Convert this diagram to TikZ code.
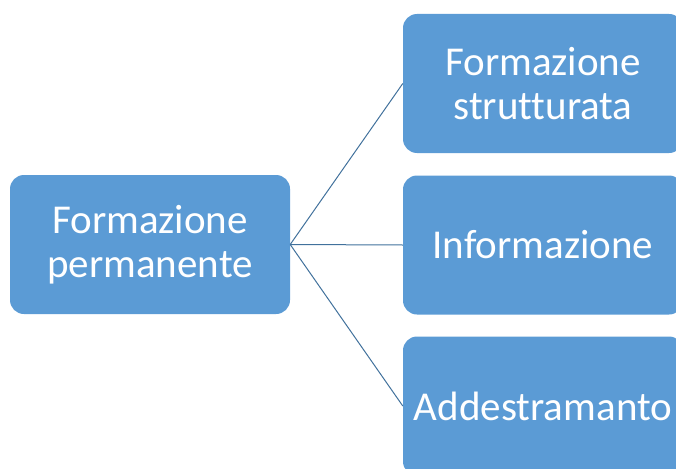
\documentclass[tikz,border=0pt]{standalone}
\usepackage{fontspec}
\setmainfont[Ligatures=NoCommon]{Carlito}
\usepackage{tikz}

\definecolor{boxblue}{HTML}{5B9BD5}
\definecolor{lineblue}{HTML}{41719C}

\begin{document}
\begin{tikzpicture}[x=1pt,y=-1pt,
    box/.style={rectangle, rounded corners=14pt, fill=boxblue, text=white,
      minimum width=280pt, minimum height=139pt, align=center,
      font=\fontsize{41}{44}\selectfont, inner sep=0pt},
    link/.style={draw=lineblue, line width=1pt}]
    % Fix the page size
    \clip (0,0) rectangle (676,468);

    % Draw boxes
    \node[box] (perm) at (150,244.5) {Formazione\\permanente};
    \node[box] (strut) at (543,83.5) {Formazione\\strutturata};
    \node[box] (info) at (543,245) {Informazione};
    \node[box] (addestr) at (543,406) {Addestramanto};

    % Draw connectors
    \draw[link] (perm.east) -- (strut.west);
    \draw[link] (perm.east) -- (info.west);
    \draw[link] (perm.east) -- (addestr.west);
\end{tikzpicture}
\end{document}
